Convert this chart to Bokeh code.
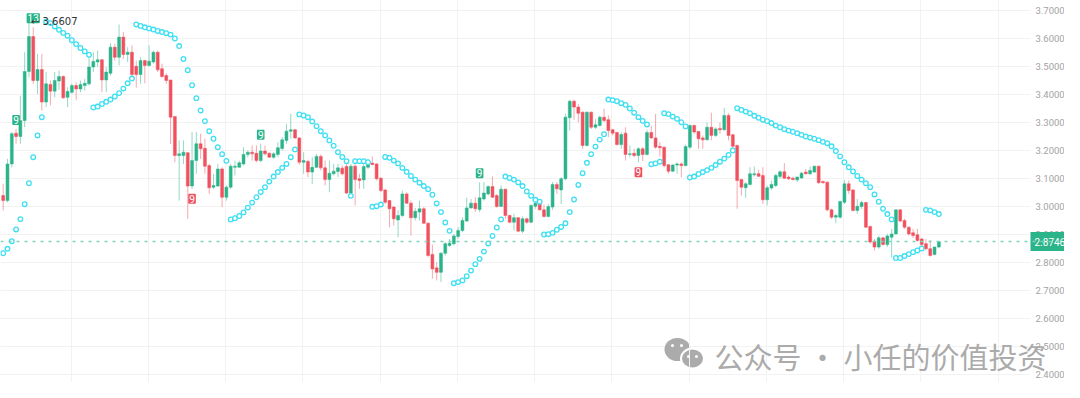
from bokeh.plotting import figure
from bokeh.models import ColumnDataSource, Range1d, FixedTicker, Label, Span
from bokeh.embed import file_html
from bokeh.resources import INLINE

# ---------------- data ----------------
opens = [3.039, 3.021, 3.152, 3.262, 3.250, 3.307, 3.482, 3.607, 3.450, 3.489,
         3.373, 3.436, 3.412, 3.448, 3.464, 3.390, 3.408, 3.432, 3.420, 3.432,
         3.438, 3.498, 3.516, 3.524, 3.452, 3.476, 3.569, 3.533, 3.605, 3.543,
         3.551, 3.501, 3.471, 3.521, 3.504, 3.516, 3.551, 3.492, 3.468, 3.452,
         3.321, 3.182, 3.182, 3.192, 3.073, 3.164, 3.224, 3.208, 3.146, 3.069,
         3.073, 3.134, 3.033, 3.069, 3.140, 3.140, 3.152, 3.186, 3.194, 3.190,
         3.164, 3.198, 3.190, 3.176, 3.186, 3.207, 3.236, 3.269, 3.274, 3.245,
         3.158, 3.161, 3.123, 3.140, 3.179, 3.138, 3.096, 3.117, 3.125, 3.137,
         3.143, 3.048, 3.144, 3.099, 3.095, 3.140, 3.155, 3.152, 3.101, 3.059,
         3.021, 2.998, 2.952, 2.968, 3.045, 3.012, 2.960, 2.980, 2.992, 2.940,
         2.829, 2.781, 2.765, 2.833, 2.861, 2.867, 2.893, 2.914, 2.948, 2.995,
         3.012, 2.989, 3.027, 3.045, 3.071, 3.039, 3.000, 3.062, 2.968, 2.944,
         2.960, 2.912, 2.956, 2.944, 3.001, 3.012, 2.988, 2.964, 2.998, 3.079,
         3.059, 3.099, 3.317, 3.376, 3.355, 3.337, 3.218, 3.337, 3.283, 3.289,
         3.319, 3.310, 3.274, 3.264, 3.221, 3.262, 3.186, 3.190, 3.182, 3.206,
         3.186, 3.264, 3.245, 3.215, 3.212, 3.149, 3.126, 3.148, 3.152, 3.146,
         3.212, 3.289, 3.268, 3.245, 3.238, 3.283, 3.254, 3.279, 3.274, 3.325,
         3.256, 3.218, 3.096, 3.067, 3.079, 3.113, 3.117, 3.111, 3.024, 3.066,
         3.075, 3.107, 3.124, 3.105, 3.101, 3.095, 3.102, 3.123, 3.117, 3.123,
         3.144, 3.089, 3.087, 2.988, 2.962, 2.962, 3.015, 3.081, 3.059, 2.986,
         3.000, 3.014, 2.929, 2.876, 2.855, 2.888, 2.864, 2.890, 2.902, 2.988,
         2.950, 2.926, 2.906, 2.899, 2.884, 2.867, 2.849, 2.829, 2.855]
highs = [3.081, 3.170, 3.266, 3.277, 3.396, 3.551, 3.6607, 3.640, 3.545, 3.545,
         3.480, 3.450, 3.480, 3.486, 3.468, 3.426, 3.438, 3.444, 3.450, 3.456,
         3.539, 3.551, 3.557, 3.527, 3.498, 3.583, 3.581, 3.650, 3.623, 3.569,
         3.575, 3.521, 3.533, 3.524, 3.575, 3.557, 3.557, 3.510, 3.476, 3.452,
         3.321, 3.236, 3.236, 3.194, 3.266, 3.266, 3.260, 3.242, 3.152, 3.117,
         3.152, 3.140, 3.075, 3.152, 3.164, 3.164, 3.212, 3.200, 3.218, 3.218,
         3.224, 3.218, 3.194, 3.194, 3.230, 3.248, 3.295, 3.331, 3.277, 3.248,
         3.194, 3.167, 3.176, 3.188, 3.186, 3.164, 3.164, 3.152, 3.152, 3.146,
         3.152, 3.152, 3.164, 3.117, 3.152, 3.170, 3.179, 3.155, 3.105, 3.063,
         3.024, 3.000, 2.986, 3.057, 3.051, 3.021, 2.995, 3.021, 2.998, 2.944,
         2.864, 2.801, 2.837, 2.873, 2.884, 2.902, 2.926, 2.962, 3.031, 3.027,
         3.033, 3.087, 3.087, 3.075, 3.107, 3.045, 3.075, 3.063, 2.970, 2.974,
         2.962, 2.964, 2.960, 3.007, 3.027, 3.015, 3.007, 3.009, 3.087, 3.087,
         3.105, 3.331, 3.381, 3.381, 3.367, 3.339, 3.339, 3.339, 3.313, 3.325,
         3.349, 3.325, 3.277, 3.267, 3.266, 3.283, 3.218, 3.206, 3.212, 3.212,
         3.274, 3.289, 3.331, 3.230, 3.214, 3.152, 3.152, 3.158, 3.158, 3.221,
         3.293, 3.293, 3.269, 3.254, 3.301, 3.335, 3.283, 3.301, 3.352, 3.333,
         3.260, 3.221, 3.099, 3.087, 3.140, 3.143, 3.131, 3.140, 3.075, 3.093,
         3.117, 3.129, 3.155, 3.111, 3.107, 3.107, 3.123, 3.134, 3.143, 3.146,
         3.146, 3.093, 3.089, 2.992, 2.974, 3.021, 3.095, 3.093, 3.063, 3.027,
         3.021, 3.017, 2.931, 2.884, 2.896, 2.890, 2.902, 2.920, 2.990, 2.990,
         2.956, 2.929, 2.920, 2.920, 2.888, 2.884, 2.881, 2.857, 2.876]
lows = [2.986, 3.015, 3.140, 3.224, 3.224, 3.283, 3.462, 3.438, 3.402, 3.343,
        3.355, 3.361, 3.390, 3.417, 3.385, 3.355, 3.402, 3.381, 3.408, 3.414,
        3.432, 3.480, 3.498, 3.408, 3.408, 3.468, 3.521, 3.504, 3.527, 3.516,
        3.464, 3.424, 3.438, 3.440, 3.500, 3.510, 3.480, 3.460, 3.438, 3.224,
        3.158, 3.021, 3.152, 2.956, 3.063, 3.117, 3.170, 3.117, 3.045, 3.063,
        3.069, 2.998, 3.021, 3.063, 3.111, 3.140, 3.146, 3.176, 3.164, 3.158,
        3.158, 3.182, 3.174, 3.170, 3.176, 3.200, 3.224, 3.242, 3.242, 3.150,
        3.117, 3.105, 3.081, 3.138, 3.129, 3.075, 3.051, 3.111, 3.105, 3.111,
        3.045, 3.045, 3.004, 3.063, 3.063, 3.134, 3.146, 3.093, 3.051, 3.009,
        2.926, 2.932, 2.890, 2.962, 3.009, 2.896, 2.950, 2.950, 2.938, 2.819,
        2.742, 2.736, 2.730, 2.825, 2.855, 2.861, 2.884, 2.908, 2.944, 2.992,
        2.980, 2.980, 3.021, 3.039, 3.031, 2.995, 2.998, 2.956, 2.940, 2.914,
        2.908, 2.905, 2.938, 2.940, 2.992, 2.986, 2.962, 2.962, 2.988, 3.045,
        3.009, 3.093, 3.271, 3.310, 3.301, 3.206, 3.214, 3.277, 3.277, 3.286,
        3.301, 3.248, 3.254, 3.218, 3.206, 3.164, 3.176, 3.176, 3.158, 3.162,
        3.182, 3.242, 3.206, 3.179, 3.140, 3.117, 3.123, 3.117, 3.105, 3.144,
        3.206, 3.260, 3.206, 3.206, 3.236, 3.236, 3.248, 3.260, 3.271, 3.236,
        3.202, 2.992, 3.039, 3.031, 3.075, 3.107, 3.105, 3.009, 3.004, 3.059,
        3.069, 3.099, 3.099, 3.095, 3.093, 3.087, 3.099, 3.114, 3.113, 3.119,
        3.081, 3.081, 2.983, 2.956, 2.940, 2.956, 3.009, 3.045, 2.983, 2.974,
        2.992, 2.924, 2.867, 2.843, 2.849, 2.861, 2.855, 2.817, 2.900, 2.944,
        2.920, 2.896, 2.888, 2.873, 2.855, 2.843, 2.821, 2.825, 2.852]
closes = [3.021, 3.152, 3.260, 3.250, 3.307, 3.482, 3.607, 3.450, 3.489, 3.373,
          3.438, 3.412, 3.450, 3.464, 3.388, 3.411, 3.432, 3.420, 3.436, 3.440,
          3.498, 3.518, 3.524, 3.452, 3.480, 3.569, 3.533, 3.605, 3.543, 3.551,
          3.471, 3.471, 3.521, 3.504, 3.519, 3.551, 3.488, 3.464, 3.450, 3.319,
          3.182, 3.188, 3.194, 3.073, 3.164, 3.224, 3.206, 3.144, 3.067, 3.075,
          3.134, 3.033, 3.069, 3.144, 3.144, 3.156, 3.186, 3.194, 3.188, 3.164,
          3.198, 3.188, 3.176, 3.188, 3.210, 3.238, 3.269, 3.274, 3.245, 3.158,
          3.164, 3.123, 3.140, 3.179, 3.138, 3.096, 3.119, 3.126, 3.138, 3.117,
          3.048, 3.144, 3.096, 3.093, 3.143, 3.155, 3.150, 3.099, 3.057, 3.015,
          2.992, 2.956, 2.968, 3.045, 3.012, 2.960, 2.983, 2.992, 2.940, 2.825,
          2.777, 2.765, 2.833, 2.867, 2.869, 2.895, 2.914, 2.950, 2.995, 3.012,
          2.992, 3.031, 3.048, 3.071, 3.033, 3.000, 3.062, 2.968, 2.944, 2.960,
          2.912, 2.956, 2.944, 3.004, 3.012, 2.988, 2.964, 3.000, 3.079, 3.063,
          3.099, 3.319, 3.376, 3.355, 3.333, 3.218, 3.337, 3.283, 3.292, 3.319,
          3.307, 3.271, 3.262, 3.221, 3.257, 3.186, 3.188, 3.182, 3.206, 3.186,
          3.264, 3.245, 3.212, 3.210, 3.146, 3.126, 3.148, 3.152, 3.146, 3.214,
          3.289, 3.266, 3.242, 3.238, 3.283, 3.254, 3.277, 3.274, 3.325, 3.254,
          3.215, 3.093, 3.069, 3.081, 3.117, 3.117, 3.108, 3.024, 3.067, 3.079,
          3.111, 3.124, 3.101, 3.099, 3.096, 3.105, 3.119, 3.117, 3.129, 3.144,
          3.085, 3.085, 2.988, 2.962, 2.968, 3.018, 3.081, 3.057, 2.986, 3.001,
          3.014, 2.926, 2.873, 2.855, 2.888, 2.864, 2.895, 2.902, 2.988, 2.948,
          2.926, 2.902, 2.896, 2.879, 2.864, 2.849, 2.825, 2.855, 2.8746]
sar = [2.833, 2.849, 2.876, 2.918, 2.955, 3.008, 3.083, 3.176, 3.254, 3.319,
       3.661, 3.655, 3.643, 3.631, 3.620, 3.610, 3.594, 3.580, 3.566, 3.554, 3.542,
       3.354, 3.357, 3.366, 3.374, 3.382, 3.393, 3.405, 3.421, 3.440, 3.457,
       3.650, 3.645, 3.640, 3.636, 3.632, 3.627, 3.623, 3.619, 3.614, 3.600, 3.573,
       3.527, 3.487, 3.433, 3.387, 3.343, 3.305, 3.269, 3.242, 3.212, 3.187, 3.163,
       2.954, 2.958, 2.966, 2.979, 2.996, 3.014, 3.033, 3.052, 3.069, 3.089, 3.107,
       3.123, 3.138, 3.152, 3.176, 3.204,
       3.329, 3.325, 3.319, 3.304, 3.287, 3.269, 3.254, 3.236, 3.217, 3.194, 3.177, 3.162,
       3.038,
       3.162, 3.162, 3.162, 3.158,
       2.999, 3.001, 3.007,
       3.177, 3.174, 3.164, 3.154, 3.138, 3.124, 3.109, 3.096, 3.085, 3.073, 3.062,
       3.042, 3.011, 2.980, 2.943, 2.913,
       2.726, 2.730, 2.736, 2.751, 2.771, 2.794, 2.813, 2.839, 2.868, 2.895, 2.925, 2.954,
       3.107, 3.102, 3.096, 3.086, 3.073, 3.054, 3.038, 3.024, 3.017,
       2.900, 2.901, 2.906, 2.917, 2.927, 2.940, 2.980, 3.025, 3.077, 3.119, 3.156,
       3.187, 3.214, 3.239, 3.258,
       3.382, 3.380, 3.376, 3.369, 3.363, 3.350, 3.335, 3.319, 3.306, 3.293,
       3.151, 3.154, 3.160,
       3.333, 3.330, 3.321, 3.313, 3.301, 3.286,
       3.104, 3.107, 3.116, 3.123, 3.130, 3.138, 3.148, 3.160, 3.171, 3.184, 3.200,
       3.351, 3.345, 3.339, 3.333, 3.324, 3.317, 3.310, 3.305, 3.298, 3.289, 3.283,
       3.276, 3.271, 3.267, 3.262, 3.256, 3.250, 3.246, 3.242, 3.237, 3.231, 3.226,
       3.215, 3.198, 3.179, 3.158, 3.140, 3.125, 3.109, 3.096, 3.083, 3.069, 3.043,
       3.017, 2.992, 2.973, 2.954,
       2.816, 2.816, 2.823, 2.830, 2.837, 2.843, 2.850,
       2.988, 2.986, 2.980, 2.973]

td_index = [3, 7, 44, 60, 111, 148]
td_text = ["9", "13", "9", "9", "9", "9"]
td_side = ["up", "up", "down", "up", "up", "down"]

peak_index = 6
peak_price = 3.6607
last_price = 2.8746
y_ticks = [2.4, 2.5, 2.6, 2.7, 2.8, 2.9, 3.0, 3.1, 3.2, 3.3, 3.4, 3.5, 3.6, 3.7]
y_tick_labels = ["2.4000", "2.5000", "2.6000", "2.7000", "2.8000", "2.9000", "3.0000",
                 "3.1000", "3.2000", "3.3000", "3.4000", "3.5000", "3.6000", "3.7000"]
watermark = "公众号 · 小任的价值投资"

# ---------------- styling / layout ----------------
GREEN = "#2bb38a"
RED = "#f0515e"
SAR_COLOR = "#3fdff2"
GRID = "#f2f2f2"
AXIS_TXT = "#a3a3a3"

W, H = 1064, 382
PLOT_RIGHT = 1030                # px where the price area ends (axis area follows)
x_scale = 4.292                  # px per candle
x_start = -2.7 / x_scale
x_end = x_start + W / x_scale
y_scale = 280.0                  # px per 1.0 price
y_top = 3.7 + 10.0 / y_scale
y_bot = y_top - H / y_scale


def fx(px):   # canvas pixel -> data x (decorations / layout only)
    return x_start + px / x_scale


def fy(py):   # canvas pixel -> data y (decorations / layout only)
    return y_top - py / y_scale


n = len(closes)
xs = list(range(n))
colors = [GREEN if c >= o else RED for o, c in zip(opens, closes)]
src = ColumnDataSource(dict(
    x=xs, o=opens, h=highs, l=lows, c=closes,
    top=[max(o, c) for o, c in zip(opens, closes)],
    bot=[min(o, c) for o, c in zip(opens, closes)],
    color=colors,
))

p = figure(width=W, height=H,
           x_range=Range1d(x_start, x_end), y_range=Range1d(y_bot, y_top),
           x_axis_location=None, y_axis_location=None,
           output_backend="svg", toolbar_location=None,
           min_border=0)
p.outline_line_color = None
p.background_fill_color = "white"

p.xgrid.ticker = FixedTicker(ticks=[15.8 + 18 * k for k in range(13)])
p.xgrid.grid_line_color = GRID
p.ygrid.visible = False
# horizontal grid only over the price area
p.segment(x0=[x_start] * len(y_ticks), y0=y_ticks,
          x1=[fx(PLOT_RIGHT)] * len(y_ticks), y1=y_ticks,
          line_color=GRID, line_width=1, level="underlay")

# watermark (behind everything)
wm_c = "#ababab"
p.ellipse(x=[fx(677)], y=[fy(349)], width=[26 / x_scale], height=[23 / y_scale],
          fill_color=wm_c, line_color=None, level="underlay")
p.ellipse(x=[fx(692)], y=[fy(358)], width=[23 / x_scale], height=[20 / y_scale],
          fill_color=wm_c, line_color="white", line_width=2, level="underlay")
p.scatter(x=[fx(672), fx(681), fx(688), fx(696)],
          y=[fy(345), fy(345), fy(356), fy(356)],
          size=3, fill_color="white", line_color=None, level="underlay")
p.add_layout(Label(x=fx(714), y=fy(355), text=watermark,
                   text_font="Noto Sans CJK SC", text_font_size="29px",
                   text_color=wm_c, text_baseline="middle", text_align="left",
                   level="underlay"))

# price scale labels (right side)
p.text(x=[fx(1035)] * len(y_ticks), y=y_ticks, text=y_tick_labels,
       text_font_size="9.5px", text_color=AXIS_TXT, text_baseline="middle",
       text_align="left", text_font={"value": "Roboto"})

# candles
p.segment(x0="x", y0="h", x1="x", y1="l", line_color="color", line_alpha=0.5,
          line_width=1, source=src)
p.vbar(x="x", width=0.68, top="top", bottom="bot", fill_color="color",
       line_color="color", line_width=0.5, source=src)

# parabolic SAR
p.scatter(x=xs, y=sar, marker="circle", size=4.6, fill_color="white",
          line_color=SAR_COLOR, line_width=1.3)

# last price line
p.add_layout(Span(location=last_price, dimension="width", line_color="#7dd6bb",
                  line_dash="3 5", line_width=1.5))

# TD sequential markers
for i, t, s in zip(td_index, td_text, td_side):
    up = s == "up"
    p.add_layout(Label(
        x=i, y=highs[i] if up else lows[i], y_offset=4 if up else -5,
        text=t, text_align="center", text_baseline="bottom" if up else "top",
        text_color="white", text_font="Roboto", text_font_size="10px",
        background_fill_color=GREEN if up else RED, padding=1, border_radius=1))

# max price marker
p.add_layout(Label(x=peak_index, y=peak_price, x_offset=2, text="← " + f"{peak_price:.4f}",
                   text_baseline="middle", text_align="left",
                   text_font="DejaVu Sans", text_font_size="10px",
                   text_color="#333333"))

# last price tag on the price scale
half = 9.5 / y_scale
p.quad(left=[fx(PLOT_RIGHT)], right=[x_end], bottom=[last_price - half],
       top=[last_price + half], fill_color=GREEN, line_color=None)
p.text(x=[fx(1034)], y=[last_price], text=[f"{last_price:.4f}"],
       text_font_size="10px", text_color="white", text_baseline="middle",
       text_align="left", text_font={"value": "Roboto"})

open("out.html", "w").write(file_html(p, INLINE))
